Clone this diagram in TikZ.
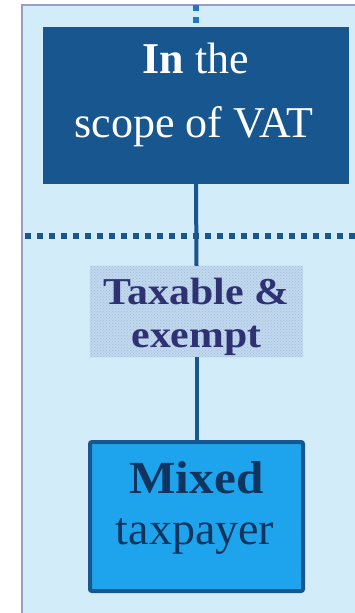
\documentclass[tikz,border=0pt]{standalone}
\usepackage{fontspec}
\setmainfont{Liberation Serif}
\newfontfamily\labfont[FakeStretch=1.1]{Liberation Serif}
\newfontfamily\mixbfont[FakeStretch=1.07]{Liberation Serif}
\usetikzlibrary{patterns}
\definecolor{bgfill}{HTML}{D3ECFA}
\definecolor{bgline}{HTML}{9C9CC6}
\definecolor{darkbox}{HTML}{18568F}
\definecolor{topdot}{HTML}{1E78C8}
\definecolor{labfill}{HTML}{C2D8EE}
\definecolor{labdots}{HTML}{9FBCDB}
\definecolor{labtext}{HTML}{2E3272}
\definecolor{mixfill}{HTML}{1EA4EC}
\definecolor{mixtext}{HTML}{0E3560}
\tikzset{
  boxtop/.style={draw=none, fill=darkbox, minimum width=306pt, minimum height=157pt, inner sep=0pt},
  boxlab/.style={draw=none, fill=labfill, minimum width=213pt, minimum height=91pt, inner sep=0pt},
  boxmix/.style={draw=darkbox, line width=4pt, fill=mixfill, rounded corners=2pt, minimum width=213pt, minimum height=149pt, inner sep=0pt},
  toptext/.style={anchor=base, text=white, font=\fontsize{44}{50}\selectfont, inner sep=0pt},
  labtxt/.style={anchor=base, text=labtext, font=\labfont\fontsize{38}{42}\selectfont\bfseries, inner sep=0pt},
  mixtxt/.style={anchor=base, text=mixtext, font=\fontsize{46}{50}\selectfont, inner sep=0pt},
  conn/.style={draw=darkbox, line width=4pt},
  dotline/.style={line width=5.5pt, dash pattern=on 6pt off 6pt},
}
\begin{document}
\begin{tikzpicture}[x=1pt,y=-1pt]
\useasboundingbox (0,0) rectangle (354,613);
\fill[white] (0,0) rectangle (354,613);
\fill[bgfill] (22,5) rectangle (360,620);
\draw[bgline, line width=1.6pt] (360,5) -- (22,5) -- (22,620);
% nodes
\node[boxtop] (top) at (196,105.5) {};
\node[boxlab] (lab) at (196.5,311.5) {};
\fill[pattern=crosshatch dots, pattern color=labdots] (lab.south west) rectangle (lab.north east);
\node[boxmix] (mix) at (196.5,516.5) {};
% horizontal dotted line
\coordinate (hl) at (25,236);
\coordinate (hr) at (360,236);
\draw[dotline, darkbox] (hl) -- (hr);
% top dotted connector
\coordinate (tin) at (196,5);
\draw[dotline, topdot, line width=6pt] (tin) -- (top.north);
% connectors
\draw[conn] (top.south) -- (lab.north);
\draw[conn] (lab.south) -- (mix.north);
% texts
\node[toptext] (t1) at (196,73) {\textbf{In} the};
\node[toptext] (t2) at (194,137) {scope of VAT};
\node[labtxt] (l1) at (196.5,304) {Taxable \&};
\node[labtxt] (l2) at (196.5,347) {exempt};
\node[mixtxt] (m1) at (196.5,493) {{\mixbfont\bfseries Mixed}};
\node[mixtxt] (m2) at (195,544) {taxpayer};
\end{tikzpicture}
\end{document}
